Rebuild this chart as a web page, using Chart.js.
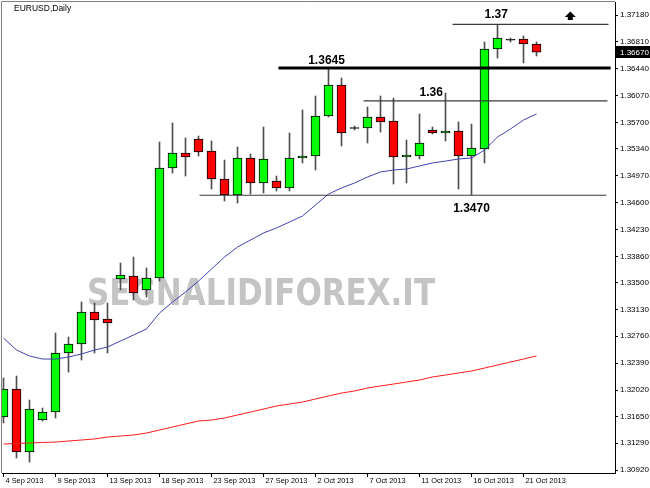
<!DOCTYPE html>
<html>
<head>
<meta charset="utf-8">
<script src="https://cdn.jsdelivr.net/npm/chart.js@4.4.1/dist/chart.umd.min.js"></script>
<style>
  html, body { margin: 0; padding: 0; background: #fff; }
  #wrap { width: 650px; height: 488px; }
</style>
</head>
<body>
<div id="wrap"><canvas id="chartEurusd" width="650" height="488"></canvas></div>
<script>
// EURUSD daily candles, 4 Sep 2013 .. 22 Oct 2013 (one bar per trading day, incl. sunday bars)
let opens = [1.31649, 1.32035, 1.31168, 1.31608, 1.31718, 1.32530, 1.32654, 1.33094, 1.32998, 1.33548,
  1.33589, 1.33397, 1.33562, 1.35075, 1.35281, 1.35474, 1.35309, 1.34924, 1.34704, 1.35213,
  1.34869, 1.34896, 1.34800, 1.35213, 1.35240, 1.35790, 1.36217, 1.35625, 1.35625, 1.35777,
  1.35722, 1.35226, 1.35240, 1.35598, 1.35557, 1.35584, 1.35240, 1.35336, 1.36712, 1.36840,
  1.36850, 1.36781];
let highs = [1.32186, 1.32213, 1.31883, 1.31773, 1.32805, 1.32750, 1.33231, 1.33218, 1.33218, 1.33768,
  1.33851, 1.33699, 1.35433, 1.35694, 1.35488, 1.35515, 1.35447, 1.35185, 1.35364, 1.35268,
  1.35639, 1.34965, 1.35557, 1.35873, 1.36066, 1.36451, 1.36313, 1.35653, 1.35914, 1.36066,
  1.36038, 1.35460, 1.35818, 1.35639, 1.36107, 1.35708, 1.35680, 1.36809, 1.37042, 1.36864,
  1.36891, 1.36809];
let lows = [1.31567, 1.31085, 1.31030, 1.31594, 1.31636, 1.32268, 1.32433, 1.32530, 1.32530, 1.33397,
  1.33259, 1.33300, 1.33520, 1.35006, 1.34965, 1.35240, 1.34786, 1.34621, 1.34593, 1.34717,
  1.34731, 1.34759, 1.34759, 1.35144, 1.35048, 1.35777, 1.35378, 1.35598, 1.35419, 1.35570,
  1.34855, 1.34869, 1.35199, 1.35543, 1.35447, 1.34786, 1.34704, 1.35144, 1.36588, 1.36809,
  1.36520, 1.36616];
let closes = [1.32035, 1.31168, 1.31759, 1.31718, 1.32530, 1.32654, 1.33094, 1.32984, 1.32943, 1.33603,
  1.33355, 1.33562, 1.35075, 1.35281, 1.35226, 1.35295, 1.34924, 1.34704, 1.35213, 1.34869,
  1.35199, 1.34800, 1.35213, 1.35240, 1.35790, 1.36217, 1.35557, 1.35625, 1.35777, 1.35708,
  1.35226, 1.35254, 1.35419, 1.35557, 1.35584, 1.35240, 1.35350, 1.36712, 1.36864, 1.36840,
  1.36781, 1.36670];

// moving averages
let maFast = [1.32736, 1.32571, 1.32489, 1.32447, 1.32447, 1.32475, 1.32516, 1.32571, 1.32612, 1.32695,
  1.32777, 1.32860, 1.33080, 1.33231, 1.33369, 1.33520, 1.33685, 1.33851, 1.33988, 1.34084,
  1.34181, 1.34250, 1.34332, 1.34415, 1.34566, 1.34717, 1.34800, 1.34869, 1.34951, 1.35020,
  1.35048, 1.35061, 1.35103, 1.35144, 1.35171, 1.35199, 1.35213, 1.35323, 1.35502, 1.35612,
  1.35735, 1.35818];
let maSlow = [1.31278, 1.31285, 1.31292, 1.31299, 1.31305, 1.31319, 1.31333, 1.31347, 1.31374, 1.31388,
  1.31402, 1.31429, 1.31470, 1.31512, 1.31553, 1.31594, 1.31608, 1.31636, 1.31677, 1.31718,
  1.31759, 1.31801, 1.31828, 1.31856, 1.31897, 1.31938, 1.31979, 1.32007, 1.32048, 1.32076,
  1.32103, 1.32131, 1.32158, 1.32200, 1.32227, 1.32255, 1.32282, 1.32323, 1.32365, 1.32406,
  1.32447, 1.32489];

let xTickBars = [0, 4, 8, 12, 16, 20, 24, 28, 32, 36, 40];
let xTickLabels = ["4 Sep 2013", "9 Sep 2013", "13 Sep 2013", "18 Sep 2013", "23 Sep 2013",
  "27 Sep 2013", "2 Oct 2013", "7 Oct 2013", "11 Oct 2013", "16 Oct 2013", "21 Oct 2013"];
let yTicks = [1.3718, 1.3681, 1.3644, 1.3607, 1.357, 1.3534, 1.3497, 1.346, 1.3423,
  1.3386, 1.335, 1.3313, 1.3276, 1.3239, 1.3202, 1.3165, 1.3129, 1.3092];

// hand drawn levels: price, first bar, last bar, caption
let levelPrices = [1.3645, 1.36, 1.3705, 1.347];
let levelFrom = [21.15, 27.7, 34.54, 15.08];
let levelTo = [46.7, 46.46, 46.54, 46.38];
let levelText = ["1.3645", "1.36", "1.37", "1.3470"];
let levelTextBar = [24.85, 32.9, 37.9, 36.0];

let symbolName = "EURUSD,Daily";
let watermark = "SEGNALIDIFOREX.IT";
let arrowBar = 43.6;
let arrowPrice = 1.37166;

let levelWidths = [3, 1.2, 1.2, 1.2];
let levelColors = ["#000000", "#3a3a3a", "#3a3a3a", "#3a3a3a"];
let levelDy = [-7, -8.5, -10, 13];

// candle pieces
let wicks = [];
let bodies = [];
let bodyColors = [];
for (let i = 0; i < opens.length; i++) {
  wicks.push({ x: i, y: [lows[i], highs[i]] });
  let lo = Math.min(opens[i], closes[i]);
  let hi = Math.max(opens[i], closes[i]);
  if (hi - lo < 0.00005) {
    bodies.push({ x: i, y: [opens[i] - 0.00007, opens[i] + 0.00007] });
    bodyColors.push("#000000");
  } else {
    bodies.push({ x: i, y: [lo, hi] });
    bodyColors.push(closes[i] > opens[i] ? "#00ff00" : "#ff0000");
  }
}

let levelSets = levelPrices.map((p, i) => ({
  type: "line",
  data: [{ x: levelFrom[i], y: p }, { x: levelTo[i], y: p }],
  borderColor: levelColors[i],
  borderWidth: levelWidths[i],
  pointRadius: 0,
  fill: false,
}));

let decor = {
  id: "mtDecor",
  beforeDraw(chart) {
    let c = chart.ctx;
    c.save();
    c.fillStyle = "#ffffff";
    c.fillRect(0, 0, chart.width, chart.height);
    c.restore();
  },
  beforeDatasetsDraw(chart) {
    let c = chart.ctx;
    c.save();
    c.font = 'bold 37px "DejaVu Sans"';
    let w = c.measureText(watermark).width;
    c.translate(87, 305);
    c.scale(348 / w, 1);
    c.fillStyle = "#c4c4c4";
    c.textBaseline = "alphabetic";
    c.fillText(watermark, 0, 0);
    c.restore();
  },
  afterDraw(chart) {
    let c = chart.ctx;
    let a = chart.chartArea;
    let xs = chart.scales.x;
    let ys = chart.scales.y;
    c.save();
    // left / top frame
    c.strokeStyle = "#808080";
    c.lineWidth = 1;
    c.beginPath();
    c.moveTo(a.left - 0.5, a.bottom);
    c.lineTo(a.left - 0.5, a.top - 0.5);
    c.lineTo(a.right, a.top - 0.5);
    c.stroke();

    c.fillStyle = "#000";
    c.font = '8.5px "Liberation Sans"';
    c.textBaseline = "middle";
    c.fillText(symbolName, 14, 9);

    // level captions
    c.font = 'bold 12px "Liberation Sans"';
    c.textAlign = "center";
    for (let i = 0; i < levelText.length; i++) {
      c.fillText(levelText[i], xs.getPixelForValue(levelTextBar[i]),
        ys.getPixelForValue(levelPrices[i]) + levelDy[i]);
    }

    // up arrow
    let ax = xs.getPixelForValue(arrowBar);
    let ay = ys.getPixelForValue(arrowPrice);
    c.beginPath();
    c.moveTo(ax, ay - 4.5);
    c.lineTo(ax + 5.5, ay + 1);
    c.lineTo(ax + 2.5, ay + 1);
    c.lineTo(ax + 2.5, ay + 4);
    c.lineTo(ax - 2.5, ay + 4);
    c.lineTo(ax - 2.5, ay + 1);
    c.lineTo(ax - 5.5, ay + 1);
    c.closePath();
    c.fill();

    // last price box
    let last = closes[closes.length - 1];
    let py = Math.round(ys.getPixelForValue(last));
    c.fillRect(a.right + 1, py - 6, chart.width - a.right - 1, 12);
    c.fillStyle = "#fff";
    c.font = '8px "Liberation Sans"';
    c.textAlign = "left";
    c.fillText(last.toFixed(5), a.right + 5, py + 0.5);
    c.restore();
  },
};

let xMin = -1.5 / 13;
let xMax = xMin + 613 / 13;

new Chart(document.getElementById("chartEurusd").getContext("2d"), {
  type: "bar",
  data: {
    datasets: [
      ...levelSets,
      {
        type: "line",
        data: maFast.map((v, i) => ({ x: i, y: v })),
        borderColor: "#4343b0",
        borderWidth: 1,
        pointRadius: 0,
        tension: 0,
      },
      {
        type: "line",
        data: maSlow.map((v, i) => ({ x: i, y: v })),
        borderColor: "#ff1a1a",
        borderWidth: 1,
        pointRadius: 0,
        tension: 0,
      },
      {
        data: bodies,
        backgroundColor: bodyColors,
        borderColor: "#000000",
        borderWidth: 1,
        borderSkipped: false,
        barThickness: 9,
        grouped: false,
      },
      {
        data: wicks,
        backgroundColor: "#505050",
        borderWidth: 0,
        barThickness: 1,
        grouped: false,
      },
    ],
  },
  options: {
    responsive: false,
    animation: false,
    layout: { padding: { left: 2, top: 2, right: 0, bottom: 0 } },
    plugins: {
      legend: { display: false },
      tooltip: { enabled: false },
    },
    scales: {
      x: {
        type: "linear",
        min: xMin,
        max: xMax,
        offset: false,
        grid: { offset: false, drawOnChartArea: false, color: "#000", tickLength: 4 },
        border: { color: "#000" },
        ticks: {
          autoSkip: false,
          maxRotation: 0,
          align: "start",
          labelOffset: 2,
          padding: 0,
          color: "#000",
          font: { family: "Liberation Sans", size: 7.4 },
          callback: (v) => xTickLabels[xTickBars.indexOf(v)],
        },
        afterBuildTicks: (scale) => {
          scale.ticks = xTickBars.map((v) => ({ value: v }));
        },
        afterFit: (scale) => {
          scale.height = 15;
          scale.paddingLeft = 0;
          scale.paddingRight = 0;
        },
      },
      y: {
        position: "right",
        min: 1.30879,
        max: 1.37359,
        grid: { drawOnChartArea: false, color: "#000", tickLength: 3 },
        border: { color: "#000" },
        ticks: {
          autoSkip: false,
          padding: 2,
          color: "#000",
          font: { family: "Liberation Sans", size: 8 },
          callback: (v) => Number(v).toFixed(5),
        },
        afterBuildTicks: (scale) => {
          scale.ticks = yTicks.map((v) => ({ value: v }));
        },
        afterFit: (scale) => {
          scale.width = 35;
          scale.paddingTop = 0;
          scale.paddingBottom = 0;
        },
      },
    },
  },
  plugins: [decor],
});
</script>
</body>
</html>
